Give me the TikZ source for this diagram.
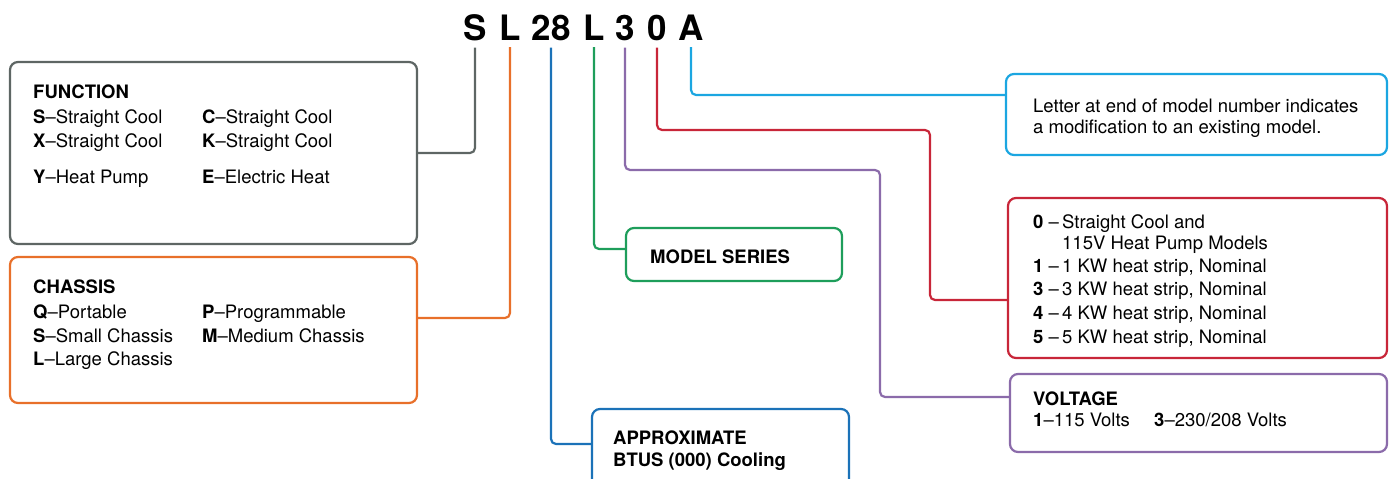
\documentclass[tikz,border=0pt]{standalone}
\usepackage{fontspec}
\setmainfont{TeX Gyre Heros}
\definecolor{cgray}{HTML}{5E6664}
\definecolor{corange}{HTML}{E8702A}
\definecolor{cdblue}{HTML}{1B72B8}
\definecolor{cgreen}{HTML}{1E9E5B}
\definecolor{cpurple}{HTML}{8B6BAA}
\definecolor{cred}{HTML}{C82639}
\definecolor{clblue}{HTML}{1BA6E1}
\tikzset{
 box/.style={draw, line width=2.2pt, rounded corners=8pt, fill=white, inner sep=0pt},
 conn/.style={line width=2.2pt, rounded corners=5pt},
 lab/.style={anchor=base west, inner sep=0pt, font=\fontsize{18.5}{22}\selectfont},
 codeltr/.style={anchor=base, inner xsep=0pt, inner ysep=7pt, font=\fontsize{35}{40}\selectfont\bfseries},
}
\begin{document}
\begin{tikzpicture}[x=1pt,y=-1pt]
\useasboundingbox (0,0) rectangle (1389,479);
\begin{scope}
\clip (0,0) rectangle (1389,479);
% code letters
\node[codeltr] (S) at (475,40) {S};
\node[codeltr] (L1) at (510,40) {L};
\node[codeltr] (n28) at (551,40) {28};
\node[codeltr] (L2) at (594,40) {L};
\node[codeltr] (n3) at (625,40) {3};
\node[codeltr] (n0) at (657,40) {0};
\node[codeltr] (A) at (691,40) {A};
% boxes
\node[box, draw=cgray, minimum width=407pt, minimum height=182pt] (func) at (213.5,153) {};
\node[box, draw=corange, minimum width=407pt, minimum height=146pt] (chassis) at (213.5,330) {};
\node[box, draw=cgreen, minimum width=216pt, minimum height=53pt] (model) at (734,254.5) {};
\node[box, draw=cdblue, minimum width=257pt, minimum height=81pt] (approx) at (720.5,449.5) {};
\node[box, draw=clblue, minimum width=381pt, minimum height=81pt] (letter) at (1196.5,114.5) {};
\node[box, draw=cred, minimum width=379pt, minimum height=160pt] (red) at (1197.5,278) {};
\node[box, draw=cpurple, minimum width=377pt, minimum height=78pt] (volt) at (1198.5,413) {};
% connectors
\coordinate (v1) at (880,170);
\coordinate (r1) at (930,130);
\draw[conn, cgray] (S.south) |- (func.east);
\draw[conn, corange] (L1.south) |- ([yshift=12pt]chassis.east);
\draw[conn, cdblue] (n28.south) |- ([yshift=5.5pt]approx.west);
\draw[conn, cgreen] (L2.south) |- ([yshift=5.5pt]model.west);
\draw[conn, cpurple] (n3.south) |- (v1) |- ([yshift=16pt]volt.west);
\draw[conn, cred] (n0.south) |- (r1) |- ([yshift=-22pt]red.west);
\draw[conn, clblue] (A.south) |- ([yshift=19.5pt]letter.west);
% function text
\node[lab] (fh) at (33,98) {\bfseries FUNCTION};
\node[lab] (f1) at (33,123) {\textbf{S}–Straight Cool};
\node[lab] (f2) at (202,123) {\textbf{C}–Straight Cool};
\node[lab] (f3) at (33,147) {\textbf{X}–Straight Cool};
\node[lab] (f4) at (202,147) {\textbf{K}–Straight Cool};
\node[lab] (f5) at (33,183) {\textbf{Y}–Heat Pump};
\node[lab] (f6) at (202,183) {\textbf{E}–Electric Heat};
% chassis text
\node[lab] (ch) at (33,293) {\bfseries CHASSIS};
\node[lab] (c1) at (33,318) {\textbf{Q}–Portable};
\node[lab] (c2) at (202,318) {\textbf{P}–Programmable};
\node[lab] (c3) at (33,342) {\textbf{S}–Small Chassis};
\node[lab] (c4) at (202,342) {\textbf{M}–Medium Chassis};
\node[lab] (c5) at (33,365) {\textbf{L}–Large Chassis};
% model / approx
\node[lab] (mt) at (650,263) {\bfseries MODEL SERIES};
\node[lab] (a1) at (613,444) {\bfseries APPROXIMATE};
\node[lab] (a2) at (613,466) {\bfseries BTUS (000) Cooling};
% letter box
\node[lab] (l1) at (1033,112) {Letter at end of model number indicates};
\node[lab] (l2) at (1033,133) {a modification to an existing model.};
% red box
\node[lab] (r1t) at (1033,228) {\makebox[29pt][l]{\textbf{0} –}Straight Cool and};
\node[lab] (r2t) at (1062,249) {115V Heat Pump Models};
\node[lab] (r3t) at (1033,272) {\makebox[29pt][l]{\textbf{1} –}1 KW heat strip, Nominal};
\node[lab] (r4t) at (1033,295) {\makebox[29pt][l]{\textbf{3} –}3 KW heat strip, Nominal};
\node[lab] (r5t) at (1033,319) {\makebox[29pt][l]{\textbf{4} –}4 KW heat strip, Nominal};
\node[lab] (r6t) at (1033,343) {\makebox[29pt][l]{\textbf{5} –}5 KW heat strip, Nominal};
% voltage
\node[lab] (vh) at (1033,405) {\bfseries VOLTAGE};
\node[lab] (vt1) at (1033,426) {\textbf{1}–115 Volts};
\node[lab] (vt2) at (1154,426) {\textbf{3}–230/208 Volts};
\end{scope}
\end{tikzpicture}
\end{document}
